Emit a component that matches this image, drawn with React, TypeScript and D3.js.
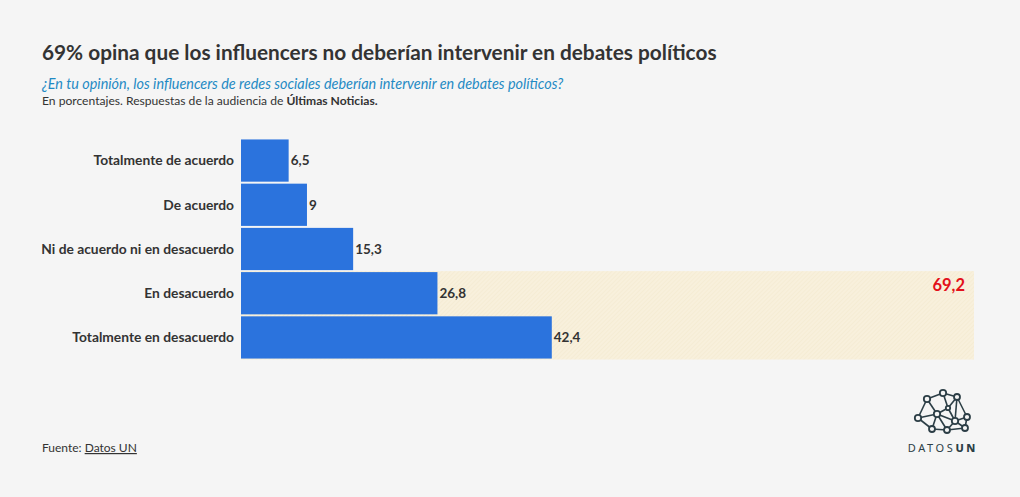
import { useEffect, useRef } from 'react'
import * as d3 from 'd3'

const categories = [
  'Totalmente de acuerdo',
  'De acuerdo',
  'Ni de acuerdo ni en desacuerdo',
  'En desacuerdo',
  'Totalmente en desacuerdo',
]
const values = [6.5, 9, 15.3, 26.8, 42.4]
const highlighted = ['En desacuerdo', 'Totalmente en desacuerdo']
const highlightTotal = 69.2

// logo network (decorative)
const logoNodes: [number, number, number][] = [
  [943, 393, 3.2], [957, 397, 3], [927, 399, 3.2], [948, 408, 2.2],
  [937, 414, 3.2], [918, 418, 3.2], [967, 417, 3], [955, 421, 3.2],
  [932, 429, 3], [947, 430, 3], [965, 428, 3],
]
const logoEdges: [number, number][] = [
  [0, 1], [0, 2], [0, 3], [1, 3], [1, 6], [1, 7], [2, 4], [2, 5], [3, 4], [3, 7],
  [4, 5], [4, 8], [4, 9], [4, 7], [5, 8], [6, 7], [6, 10], [7, 9], [7, 10], [8, 9], [9, 10],
]

const W = 1020
const H = 497
const FONT = "'Source Sans Pro', 'Lato', 'Noto Sans', sans-serif"

export default function App() {
  const svgRef = useRef<SVGSVGElement>(null)

  useEffect(() => {
    if (!svgRef.current) return
    const svg = d3.select(svgRef.current)
    svg.selectAll('*').remove()

    svg.append('rect').attr('width', W).attr('height', H).attr('fill', '#f5f5f5')

    // hatch pattern
    const defs = svg.append('defs')
    const pat = defs.append('pattern')
      .attr('id', 'hatch')
      .attr('patternUnits', 'userSpaceOnUse')
      .attr('width', 3).attr('height', 3)
      .attr('patternTransform', 'rotate(45)')
    pat.append('rect').attr('width', 3).attr('height', 3).attr('fill', '#f8f0dc')
    pat.append('line').attr('x1', 0).attr('y1', 0).attr('x2', 0).attr('y2', 3)
      .attr('stroke', '#f1e6c8').attr('stroke-width', 0.8)

    const x = d3.scaleLinear().domain([0, 100]).range([241, 974])
    const y = d3.scaleBand().domain(categories).range([139, 359]).paddingInner(0.045).paddingOuter(0.01)

    // title block
    svg.append('text')
      .attr('x', 42).attr('y', 60)
      .attr('font-family', FONT).attr('font-weight', 700).attr('font-size', 20.8)
      .attr('fill', '#333').text('69% opina que los influencers no deberían intervenir en debates políticos')
    svg.append('text')
      .attr('x', 42).attr('y', 89)
      .attr('font-family', FONT).attr('font-style', 'italic').attr('font-size', 14.4)
      .attr('fill', '#1f8ac4').text('¿En tu opinión, los influencers de redes sociales deberían intervenir en debates políticos?')
    const note = svg.append('text')
      .attr('x', 42).attr('y', 105)
      .attr('font-family', FONT).attr('font-size', 12.1).attr('fill', '#333')
    note.append('tspan').text('En porcentajes. Respuestas de la audiencia de ')
    note.append('tspan').attr('font-weight', 700).text('Últimas Noticias.')

    // highlight region
    const hy0 = y(highlighted[0])! - y.step() * y.paddingInner() / 2
    const hy1 = y(highlighted[highlighted.length - 1])! + y.bandwidth() + y.step() * y.paddingInner() / 2
    svg.append('rect')
      .attr('x', x(0)).attr('y', hy0)
      .attr('width', x(100) - x(0)).attr('height', hy1 - hy0)
      .attr('fill', 'url(#hatch)')
    svg.append('text')
      .attr('x', x(100) - 9).attr('y', hy0 + 20)
      .attr('text-anchor', 'end')
      .attr('font-family', FONT).attr('font-weight', 700).attr('font-size', 16.5)
      .attr('fill', '#e3101a').text(String(highlightTotal).replace('.', ','))

    // bars
    const g = svg.append('g')
    g.selectAll('rect.bar')
      .data(values)
      .join('rect')
      .attr('class', 'bar')
      .attr('x', x(0))
      .attr('y', (_, i) => y(categories[i])!)
      .attr('width', d => x(d) - x(0))
      .attr('height', y.bandwidth())
      .attr('fill', '#2b73dd')

    g.selectAll('text.val')
      .data(values)
      .join('text')
      .attr('class', 'val')
      .attr('x', d => x(d) + 2)
      .attr('y', (_, i) => y(categories[i])! + y.bandwidth() / 2)
      .attr('dy', '0.35em')
      .attr('font-family', FONT).attr('font-weight', 700).attr('font-size', 13.5)
      .attr('fill', '#333')
      .text(d => String(d).replace('.', ','))

    g.selectAll('text.cat')
      .data(categories)
      .join('text')
      .attr('class', 'cat')
      .attr('x', x(0) - 7)
      .attr('y', d => y(d)! + y.bandwidth() / 2)
      .attr('dy', '0.35em')
      .attr('text-anchor', 'end')
      .attr('font-family', FONT).attr('font-weight', 700).attr('font-size', 13.8)
      .attr('fill', '#333')
      .text(d => d)

    // source
    const src = svg.append('text')
      .attr('x', 42).attr('y', 452)
      .attr('font-family', FONT).attr('font-size', 12).attr('fill', '#333')
    src.append('tspan').text('Fuente: ')
    src.append('tspan').attr('text-decoration', 'underline').text('Datos UN')

    // logo
    const logo = svg.append('g')
    logo.selectAll('line')
      .data(logoEdges)
      .join('line')
      .attr('x1', d => logoNodes[d[0]][0]).attr('y1', d => logoNodes[d[0]][1])
      .attr('x2', d => logoNodes[d[1]][0]).attr('y2', d => logoNodes[d[1]][1])
      .attr('stroke', '#2c3e46').attr('stroke-width', 1.6)
    logo.selectAll('circle')
      .data(logoNodes)
      .join('circle')
      .attr('cx', d => d[0]).attr('cy', d => d[1]).attr('r', d => d[2])
      .attr('fill', '#f5f5f5').attr('stroke', '#2c3e46').attr('stroke-width', 1.8)
    const lt = logo.append('text')
      .attr('x', 978).attr('y', 452)
      .attr('text-anchor', 'end')
      .attr('font-family', "'Noto Sans', sans-serif").attr('font-size', 11)
      .attr('letter-spacing', 2.6)
      .attr('fill', '#2c3e46')
    lt.append('tspan').text('DATOS')
    lt.append('tspan').attr('font-weight', 800).text('UN')
  }, [])

  return (
    <svg
      ref={svgRef}
      width={W}
      height={H}
      style={{ display: 'block', position: 'absolute', left: 0, top: 0 }}
    />
  )
}
